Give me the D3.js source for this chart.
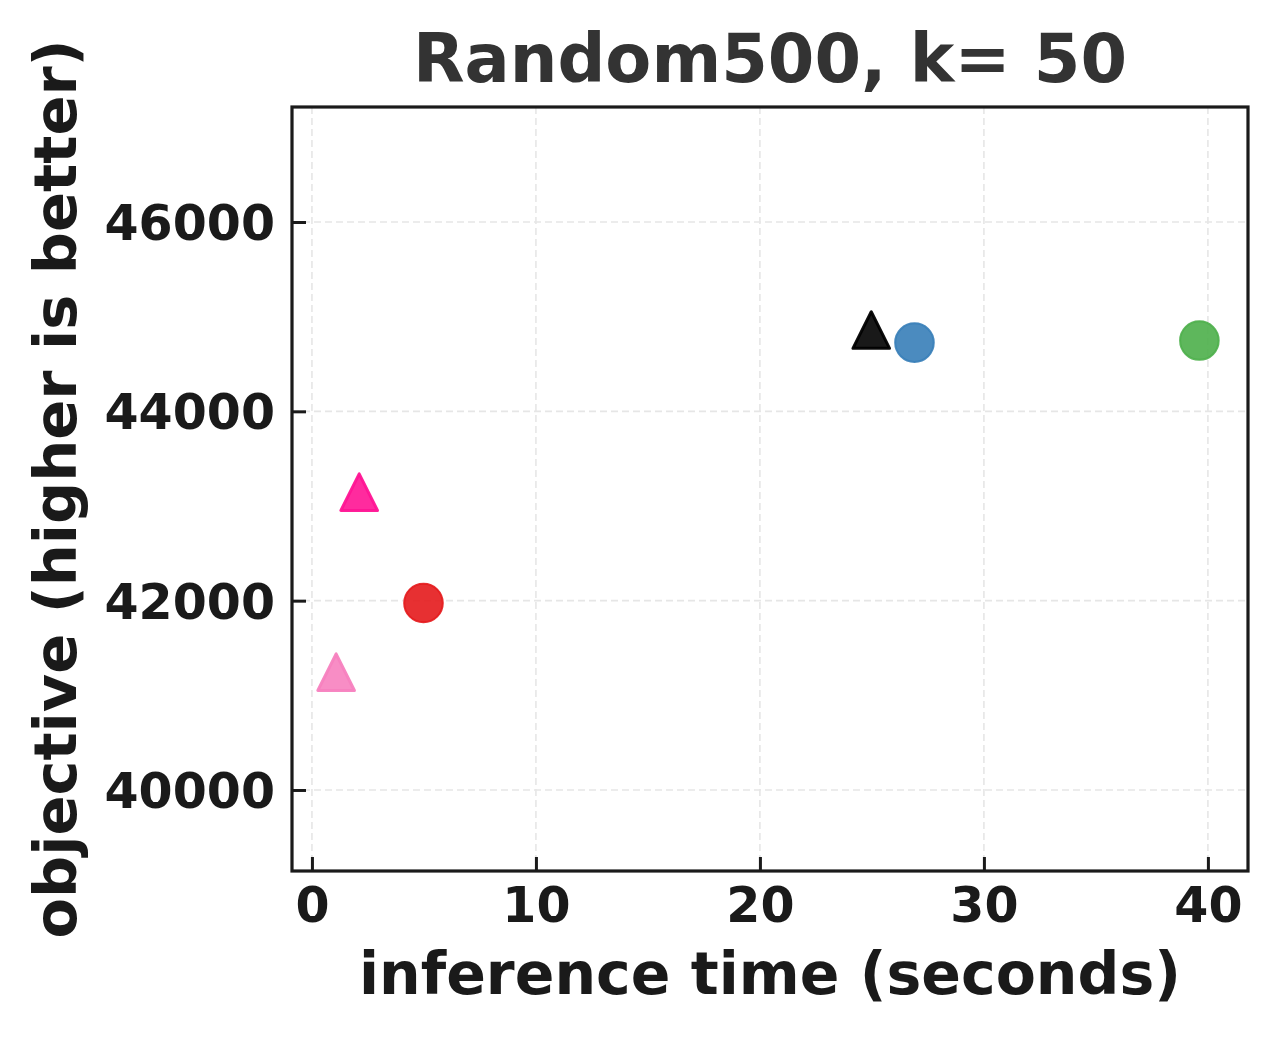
<!DOCTYPE html>
<html>
<head>
<meta charset="utf-8">
<script src="https://cdn.jsdelivr.net/npm/d3@7"></script>
<style>
  html, body { margin: 0; padding: 0; background: #fff; }
  svg { display: block; }
  text { font-family: "DejaVu Sans", sans-serif; font-weight: bold; }
</style>
</head>
<body>
<svg id="chart" width="1278" height="1038"></svg>
<script>
// ---- data ----
const methods = ["light-pink", "magenta", "red", "black", "blue", "green"];
const times = [1.08, 2.11, 4.98, 24.97, 26.9, 39.62];
const objectives = [41244, 43146, 41975, 44859, 44726, 44748];
const shapes = ["triangle", "triangle", "circle", "triangle", "circle", "circle"];
const colors = ["#f781bf", "#ff1493", "#e41a1c", "#000000", "#377eb8", "#4daf4a"];
const xTicks = [0, 10, 20, 30, 40];
const yTicks = [40000, 42000, 44000, 46000];
const titleText = "Random500, k= 50";
const xLabel = "inference time (seconds)";
const yLabel = "objective (higher is better)";

// ---- layout ----
const W = 1278, H = 1038;
const plot = { left: 292, right: 1248, top: 107, bottom: 871 };
const svg = d3.select("#chart");

const x = d3.scaleLinear().domain([-0.89, 41.79]).range([plot.left, plot.right]);
const y = d3.scaleLinear().domain([39144, 47215]).range([plot.bottom, plot.top]);

// grid
const grid = svg.append("g");
grid.selectAll("line.gx").data(xTicks).join("line")
  .attr("x1", d => x(d)).attr("x2", d => x(d))
  .attr("y1", plot.top).attr("y2", plot.bottom)
  .attr("stroke", "#e6e6e6").attr("stroke-width", 1.6).attr("stroke-dasharray", "7,4");
grid.selectAll("line.gy").data(yTicks).join("line")
  .attr("x1", plot.left).attr("x2", plot.right)
  .attr("y1", d => y(d)).attr("y2", d => y(d))
  .attr("stroke", "#e6e6e6").attr("stroke-width", 1.6).attr("stroke-dasharray", "7,4");

// axes (ticks inward)
const axisColor = "#1a1a1a";
const xAxis = d3.axisBottom(x).tickValues(xTicks).tickSize(-14).tickPadding(16).tickFormat(d3.format("d"));
const yAxis = d3.axisLeft(y).tickValues(yTicks).tickSize(-14).tickPadding(17).tickFormat(d3.format("d"));

const gx = svg.append("g").attr("transform", `translate(0,${plot.bottom})`).call(xAxis);
const gy = svg.append("g").attr("transform", `translate(${plot.left},0)`).call(yAxis);
[gx, gy].forEach(g => {
  g.select(".domain").remove();
  g.selectAll(".tick line").attr("stroke", axisColor).attr("stroke-width", 3);
  g.selectAll(".tick text").attr("fill", axisColor).style("font-size", "49px")
    .style("font-family", "DejaVu Sans").style("font-weight", "bold");
});
gx.selectAll(".tick text").attr("dy", "0.71em");
gy.selectAll(".tick text").attr("dy", "0.36em");

// markers
const marks = svg.append("g");
methods.forEach((m, i) => {
  const cx = x(times[i]), cy = y(objectives[i]);
  if (shapes[i] === "circle") {
    marks.append("circle").attr("cx", cx).attr("cy", cy).attr("r", 19.3)
      .attr("fill", colors[i]).attr("fill-opacity", 0.9)
      .attr("stroke", colors[i]).attr("stroke-opacity", 0.9).attr("stroke-width", 2);
  } else {
    const h = 18.3;
    const p = d3.path();
    p.moveTo(cx, cy - h); p.lineTo(cx - h, cy + h); p.lineTo(cx + h, cy + h); p.closePath();
    marks.append("path").attr("d", p.toString())
      .attr("fill", colors[i]).attr("fill-opacity", 0.9)
      .attr("stroke", colors[i]).attr("stroke-opacity", 0.95).attr("stroke-width", 3)
      .attr("stroke-linejoin", "round");
  }
});

// frame
svg.append("rect").attr("x", plot.left).attr("y", plot.top)
  .attr("width", plot.right - plot.left).attr("height", plot.bottom - plot.top)
  .attr("fill", "none").attr("stroke", axisColor).attr("stroke-width", 3.2);

// title & labels
svg.append("text").attr("x", (plot.left + plot.right) / 2).attr("y", 82)
  .attr("text-anchor", "middle").attr("fill", "#333333").style("font-size", "67px").text(titleText);
svg.append("text").attr("x", (plot.left + plot.right) / 2).attr("y", 994)
  .attr("text-anchor", "middle").attr("fill", axisColor).style("font-size", "58.5px").text(xLabel);
svg.append("text").attr("transform", `translate(76,${(plot.top + plot.bottom) / 2}) rotate(-90)`)
  .attr("text-anchor", "middle").attr("fill", axisColor).style("font-size", "59px").text(yLabel);
</script>
</body>
</html>
